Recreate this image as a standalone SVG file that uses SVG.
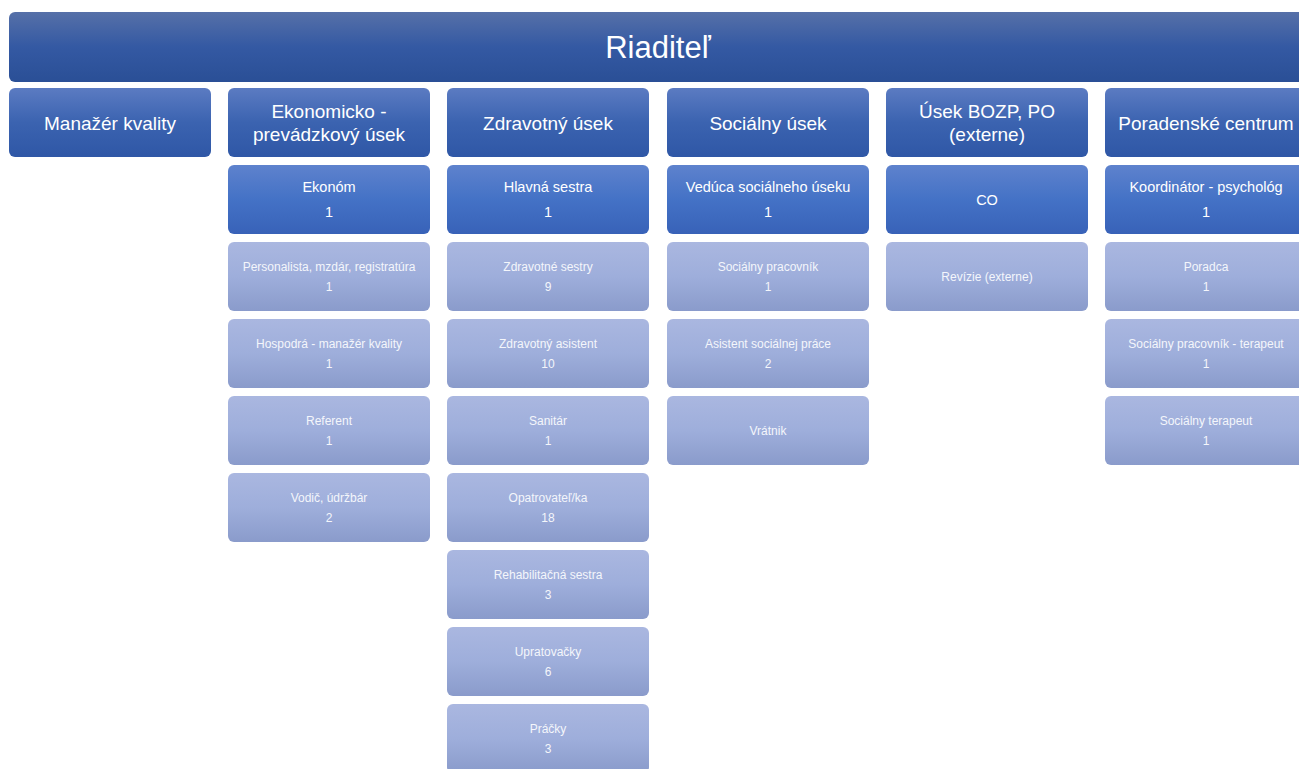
<svg xmlns="http://www.w3.org/2000/svg" width="1299" height="769" viewBox="0 0 1299 769">
<defs>
<linearGradient id="gTop" x1="0" y1="0" x2="0" y2="1">
<stop offset="0" stop-color="#5670a8"/><stop offset="0.5" stop-color="#3459a3"/><stop offset="1" stop-color="#2a4f96"/>
</linearGradient>
<linearGradient id="gHead" x1="0" y1="0" x2="0" y2="1">
<stop offset="0" stop-color="#5b7bc2"/><stop offset="0.5" stop-color="#3b63b0"/><stop offset="1" stop-color="#2f57a6"/>
</linearGradient>
<linearGradient id="gL1" x1="0" y1="0" x2="0" y2="1">
<stop offset="0" stop-color="#5e82cd"/><stop offset="0.5" stop-color="#4472c6"/><stop offset="1" stop-color="#3862b8"/>
</linearGradient>
<linearGradient id="gL2" x1="0" y1="0" x2="0" y2="1">
<stop offset="0" stop-color="#aab7e0"/><stop offset="0.5" stop-color="#9eaedb"/><stop offset="1" stop-color="#8a9bcb"/>
</linearGradient>
</defs>
<style>
text{font-family:"Liberation Sans","DejaVu Sans",sans-serif;fill:#ffffff;text-anchor:middle}
.top{fill:url(#gTop)}
.head{fill:url(#gHead)}
.l1{fill:url(#gL1)}
.l2{fill:url(#gL2)}
.t0{font-size:31px}
.th{font-size:19px}
.t1{font-size:14.5px}
.t2{font-size:12px;fill:#f4f6fb}
</style>
<rect width="1299" height="769" fill="#ffffff"/>
<g id="connectors"/>
<g id="riaditel"><rect class="top" x="9" y="12" width="1299" height="70" rx="6"/><text class="t0" x="658" y="58">Riaditeľ</text></g>

<g id="manazer-kvality"><rect class="head" x="9" y="88" width="202" height="69" rx="6"/><text class="th" x="110" y="130">Manažér kvality</text></g>
<g id="ekonomicko"><rect class="head" x="228" y="88" width="202" height="69" rx="6"/><text class="th" x="329" y="118">Ekonomicko -</text><text class="th" x="329" y="141">prevádzkový úsek</text></g>
<g id="zdravotny"><rect class="head" x="447" y="88" width="202" height="69" rx="6"/><text class="th" x="548" y="130">Zdravotný úsek</text></g>
<g id="socialny"><rect class="head" x="667" y="88" width="202" height="69" rx="6"/><text class="th" x="768" y="130">Sociálny úsek</text></g>
<g id="bozp"><rect class="head" x="886" y="88" width="202" height="69" rx="6"/><text class="th" x="987" y="118">Úsek BOZP, PO</text><text class="th" x="987" y="141">(externe)</text></g>
<g id="poradenske"><rect class="head" x="1105" y="88" width="202" height="69" rx="6"/><text class="th" x="1206" y="130">Poradenské centrum</text></g>

<g id="ekonom"><rect class="l1" x="228" y="165" width="202" height="69" rx="6"/><text class="t1" x="329" y="192">Ekonóm</text><text class="t1" x="329" y="217">1</text></g>
<g id="personalista"><rect class="l2" x="228" y="242" width="202" height="69" rx="6"/><text class="t2" x="329" y="271">Personalista, mzdár, registratúra</text><text class="t2" x="329" y="291">1</text></g>
<g id="hospodar"><rect class="l2" x="228" y="319" width="202" height="69" rx="6"/><text class="t2" x="329" y="348">Hospodrá - manažér kvality</text><text class="t2" x="329" y="368">1</text></g>
<g id="referent"><rect class="l2" x="228" y="396" width="202" height="69" rx="6"/><text class="t2" x="329" y="425">Referent</text><text class="t2" x="329" y="445">1</text></g>
<g id="vodic"><rect class="l2" x="228" y="473" width="202" height="69" rx="6"/><text class="t2" x="329" y="502">Vodič, údržbár</text><text class="t2" x="329" y="522">2</text></g>

<g id="hlavna-sestra"><rect class="l1" x="447" y="165" width="202" height="69" rx="6"/><text class="t1" x="548" y="192">Hlavná sestra</text><text class="t1" x="548" y="217">1</text></g>
<g id="zdravotne-sestry"><rect class="l2" x="447" y="242" width="202" height="69" rx="6"/><text class="t2" x="548" y="271">Zdravotné sestry</text><text class="t2" x="548" y="291">9</text></g>
<g id="zdravotny-asistent"><rect class="l2" x="447" y="319" width="202" height="69" rx="6"/><text class="t2" x="548" y="348">Zdravotný asistent</text><text class="t2" x="548" y="368">10</text></g>
<g id="sanitar"><rect class="l2" x="447" y="396" width="202" height="69" rx="6"/><text class="t2" x="548" y="425">Sanitár</text><text class="t2" x="548" y="445">1</text></g>
<g id="opatrovatel"><rect class="l2" x="447" y="473" width="202" height="69" rx="6"/><text class="t2" x="548" y="502">Opatrovateľ/ka</text><text class="t2" x="548" y="522">18</text></g>
<g id="rehabilitacna"><rect class="l2" x="447" y="550" width="202" height="69" rx="6"/><text class="t2" x="548" y="579">Rehabilitačná sestra</text><text class="t2" x="548" y="599">3</text></g>
<g id="upratovacky"><rect class="l2" x="447" y="627" width="202" height="69" rx="6"/><text class="t2" x="548" y="656">Upratovačky</text><text class="t2" x="548" y="676">6</text></g>
<g id="pracky"><rect class="l2" x="447" y="704" width="202" height="69" rx="6"/><text class="t2" x="548" y="733">Práčky</text><text class="t2" x="548" y="753">3</text></g>

<g id="veduca"><rect class="l1" x="667" y="165" width="202" height="69" rx="6"/><text class="t1" x="768" y="192">Vedúca sociálneho úseku</text><text class="t1" x="768" y="217">1</text></g>
<g id="socialny-pracovnik"><rect class="l2" x="667" y="242" width="202" height="69" rx="6"/><text class="t2" x="768" y="271">Sociálny pracovník</text><text class="t2" x="768" y="291">1</text></g>
<g id="asistent-socialnej"><rect class="l2" x="667" y="319" width="202" height="69" rx="6"/><text class="t2" x="768" y="348">Asistent sociálnej práce</text><text class="t2" x="768" y="368">2</text></g>
<g id="vratnik"><rect class="l2" x="667" y="396" width="202" height="69" rx="6"/><text class="t2" x="768" y="435">Vrátnik</text></g>

<g id="co"><rect class="l1" x="886" y="165" width="202" height="69" rx="6"/><text class="t1" x="987" y="205">CO</text></g>
<g id="revizie"><rect class="l2" x="886" y="242" width="202" height="69" rx="6"/><text class="t2" x="987" y="281">Revízie (externe)</text></g>

<g id="koordinator"><rect class="l1" x="1105" y="165" width="202" height="69" rx="6"/><text class="t1" x="1206" y="192">Koordinátor - psychológ</text><text class="t1" x="1206" y="217">1</text></g>
<g id="poradca"><rect class="l2" x="1105" y="242" width="202" height="69" rx="6"/><text class="t2" x="1206" y="271">Poradca</text><text class="t2" x="1206" y="291">1</text></g>
<g id="socialny-terapeut-pracovnik"><rect class="l2" x="1105" y="319" width="202" height="69" rx="6"/><text class="t2" x="1206" y="348">Sociálny pracovník - terapeut</text><text class="t2" x="1206" y="368">1</text></g>
<g id="socialny-terapeut"><rect class="l2" x="1105" y="396" width="202" height="69" rx="6"/><text class="t2" x="1206" y="425">Sociálny terapeut</text><text class="t2" x="1206" y="445">1</text></g>
</svg>
